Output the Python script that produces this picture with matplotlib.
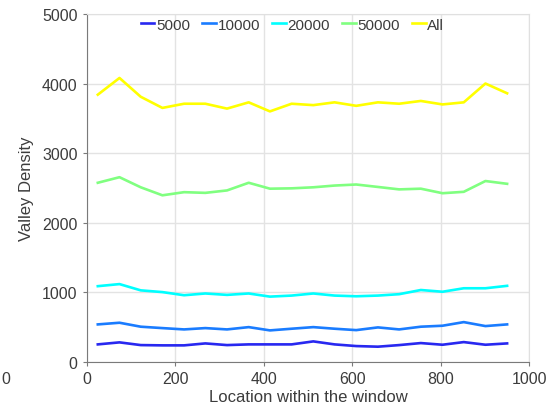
import numpy as np
import matplotlib
matplotlib.use('Agg')
import matplotlib.pyplot as plt

# -----------------------------
# Data
# -----------------------------
locations = [25, 74, 122, 171, 220, 268, 317, 366, 414, 463,
             512, 560, 609, 658, 706, 755, 804, 852, 901, 950]

density_5000 = [254, 283, 244, 240, 240, 268, 244, 254, 254, 254,
                297, 254, 230, 221, 244, 273, 249, 287, 249, 268]
density_10000 = [541, 565, 508, 488, 469, 488, 469, 502, 455, 479,
                 502, 479, 459, 498, 469, 508, 522, 574, 517, 541]
density_20000 = [1090, 1120, 1030, 1005, 960, 985, 965, 985, 940, 955,
                 985, 955, 945, 955, 975, 1035, 1010, 1060, 1060, 1095]
density_50000 = [2575, 2655, 2510, 2395, 2440, 2430, 2465, 2575, 2490, 2495,
                 2510, 2535, 2550, 2515, 2480, 2490, 2425, 2445, 2600, 2560]
density_all = [3840, 4080, 3810, 3650, 3710, 3710, 3640, 3730, 3600, 3710,
               3690, 3730, 3680, 3730, 3710, 3750, 3700, 3730, 4000, 3860]

series_labels = ['5000', '10000', '20000', '50000', 'All']
series_colors = ['#2828f0', '#1a7cff', '#00ffff', '#80ff80', '#ffff00']

# -----------------------------
# Figure
# -----------------------------
plt.rcParams['font.family'] = ['Liberation Sans', 'DejaVu Sans']
text_color = '#3c3c3c'

fig = plt.figure(figsize=(5.49, 4.14), dpi=100)
ax = fig.add_axes([0.158, 0.123, 0.806, 0.841])

all_series = [density_5000, density_10000, density_20000, density_50000, density_all]
for vals, lab, col in zip(all_series, series_labels, series_colors):
    ax.plot(locations, vals, color=col, lw=1.9, label=lab)

ax.set_xlim(0, 1000)
ax.set_ylim(0, 5000)
ax.set_xticks([0, 200, 400, 600, 800, 1000])
ax.set_yticks([0, 1000, 2000, 3000, 4000, 5000])
ax.grid(True, color='#e3e3e3', lw=1.0)
ax.set_axisbelow(True)

for side in ['left', 'bottom']:
    ax.spines[side].set_color('#7a7a7a')
for side in ['top', 'right']:
    ax.spines[side].set_color('#e0e0e0')
ax.tick_params(axis='both', labelsize=11.5, colors='#7a7a7a',
               labelcolor=text_color, length=3, direction='out')

ax.set_xlabel('Location within the window', fontsize=12, color=text_color, labelpad=2)
ax.set_ylabel('Valley Density', fontsize=12, color=text_color, labelpad=6)

leg = ax.legend(loc='upper center', ncol=5, frameon=False, fontsize=11,
                handlelength=0.9, handletextpad=0.1, columnspacing=0.8,
                bbox_to_anchor=(0.465, 1.02), borderaxespad=0.3)
for t in leg.get_texts():
    t.set_color(text_color)

# stray tick label seen at the far left of the reference
fig.text(0.003, 0.083, '0', fontsize=11.5, color=text_color, ha='left', va='center')

fig.savefig('out.png', dpi=100)
